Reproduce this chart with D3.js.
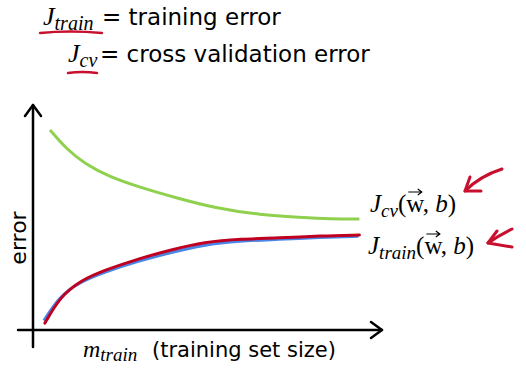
<!DOCTYPE html>
<html>
<head>
<meta charset="utf-8">
<script src="https://cdn.jsdelivr.net/npm/d3@7"></script>
<style>
  body { margin: 0; background: #fff; }
  .math { font-family: "Liberation Serif", serif; font-style: italic; }
  .txt { font-family: "DejaVu Sans", sans-serif; }
</style>
</head>
<body>
<div id="chart"></div>
<script>
// learning curve values (arbitrary units)
const cvSize = [0.5, 1.0, 1.5, 2.25, 3.15, 4.2, 5.35, 6.7, 7.85, 8.75, 9.6];
const cvError = [8.7, 7.85, 7.25, 6.65, 6.2, 5.75, 5.3, 5.0, 4.9, 4.83, 4.83];
const trainSize = [0.35, 0.8, 1.4, 2.1, 3.15, 4.05, 5.05, 6.1, 7.25, 8.45, 9.6];
const trainError = [0.3, 1.45, 2.15, 2.6, 3.12, 3.48, 3.83, 3.96, 4.0, 4.09, 4.13];
const trainErrorBlue = [0.45, 1.5, 2.12, 2.55, 3.05, 3.4, 3.75, 3.92, 3.98, 4.07, 4.12];

const width = 526, height = 374;

// scales
const x = d3.scaleLinear().domain([0, 10]).range([33, 373]);
const y = d3.scaleLinear().domain([0, 10]).range([330, 100]);

const svg = d3.select("#chart").append("svg")
  .attr("width", width).attr("height", height);

// header legend
const h1 = svg.append("text").attr("x", 43).attr("y", 25).attr("font-size", 23);
h1.append("tspan").attr("class", "math").attr("font-size", 26).text("J");
h1.append("tspan").attr("class", "math").attr("font-size", 20).attr("dy", 5).text("train");
h1.append("tspan").attr("class", "txt").attr("x", 102).attr("dy", -5).text("= training error");

const h2 = svg.append("text").attr("x", 68).attr("y", 62).attr("font-size", 23);
h2.append("tspan").attr("class", "math").attr("font-size", 26).text("J");
h2.append("tspan").attr("class", "math").attr("font-size", 20).attr("dy", 5).text("cv");
h2.append("tspan").attr("class", "txt").attr("x", 100).attr("dy", -5).text("= cross validation error");

// red underlines
svg.append("path").attr("d", "M40,33 Q70,30 102,33")
  .attr("stroke", "#c8102e").attr("stroke-width", 2.5).attr("fill", "none").attr("stroke-linecap", "round");
svg.append("path").attr("d", "M68,73 Q82,71 97,73")
  .attr("stroke", "#c8102e").attr("stroke-width", 2.5).attr("fill", "none").attr("stroke-linecap", "round");

// axes
const ax = svg.append("g").attr("stroke", "#000").attr("stroke-width", 2.5).attr("fill", "none")
  .attr("stroke-linecap", "round").attr("stroke-linejoin", "round");
ax.append("line").attr("x1", x(0)).attr("y1", 347).attr("x2", x(0)).attr("y2", 105);
ax.append("path").attr("d", `M${x(0) - 8},${116} L${x(0)},${105} L${x(0) + 8},${116}`);
ax.append("line").attr("x1", 18).attr("y1", y(0)).attr("x2", 382).attr("y2", y(0));
ax.append("path").attr("d", `M371,${y(0) - 8} L382,${y(0)} L371,${y(0) + 8}`);

// axis labels
svg.append("text").attr("class", "txt").attr("font-size", 22)
  .attr("transform", "translate(26,238) rotate(-90)")
  .attr("text-anchor", "middle").text("error");

const xl = svg.append("text").attr("x", 83).attr("y", 357).attr("font-size", 21);
xl.append("tspan").attr("class", "math").attr("font-size", 24).text("m");
xl.append("tspan").attr("class", "math").attr("font-size", 19).attr("dy", 4).text("train");
xl.append("tspan").attr("class", "txt").attr("x", 152).attr("dy", -4).text("(training set size)");

// curves
const line = d3.line().curve(d3.curveBasis);
svg.append("path")
  .attr("d", line(cvSize.map((s, i) => [x(s), y(cvError[i])])))
  .attr("stroke", "#8fd14f").attr("stroke-width", 3).attr("fill", "none");
svg.append("path")
  .attr("d", line(trainSize.map((s, i) => [x(s) - 1, y(trainErrorBlue[i]) + 1])))
  .attr("stroke", "#4a86e8").attr("stroke-width", 3).attr("fill", "none");
svg.append("path")
  .attr("d", line(trainSize.map((s, i) => [x(s), y(trainError[i])])))
  .attr("stroke", "#c00020").attr("stroke-width", 3).attr("fill", "none").attr("stroke-linecap", "round");

// curve labels J(w,b) with a vector arrow over w
function curveLabel(px, py, sub) {
  const t = svg.append("text").attr("x", px).attr("y", py).attr("font-size", 25).attr("class", "math");
  t.append("tspan").text("J");
  t.append("tspan").attr("font-size", 19).attr("dy", 5).text(sub);
  t.append("tspan").attr("dy", -5).attr("font-style", "normal").text("(w, ");
  t.append("tspan").text("b");
  t.append("tspan").attr("font-style", "normal").text(")");
  // position of "w" = char after J + sub + "("
  const idx = 1 + sub.length + 1;
  const box = t.node().getExtentOfChar(idx);
  const ay = box.y + 2;
  svg.append("path")
    .attr("d", `M${box.x + 2},${ay} L${box.x + box.width - 1},${ay} M${box.x + box.width - 5},${ay - 3} L${box.x + box.width - 1},${ay} L${box.x + box.width - 5},${ay + 3}`)
    .attr("stroke", "#000").attr("stroke-width", 1.2).attr("fill", "none");
}
curveLabel(370, 212, "cv");
curveLabel(368, 254, "train");

// hand drawn red arrows
const arr = svg.append("g").attr("stroke", "#c8102e").attr("stroke-width", 3).attr("fill", "none")
  .attr("stroke-linecap", "round").attr("stroke-linejoin", "round");
arr.append("path").attr("d", "M502,169 Q480,176 465,191");
arr.append("path").attr("d", "M470,177 L465,191 L481,191");
arr.append("path").attr("d", "M512,229 Q498,236 488,243");
arr.append("path").attr("d", "M497,231 L488,243 L512,247");
</script>
</body>
</html>
